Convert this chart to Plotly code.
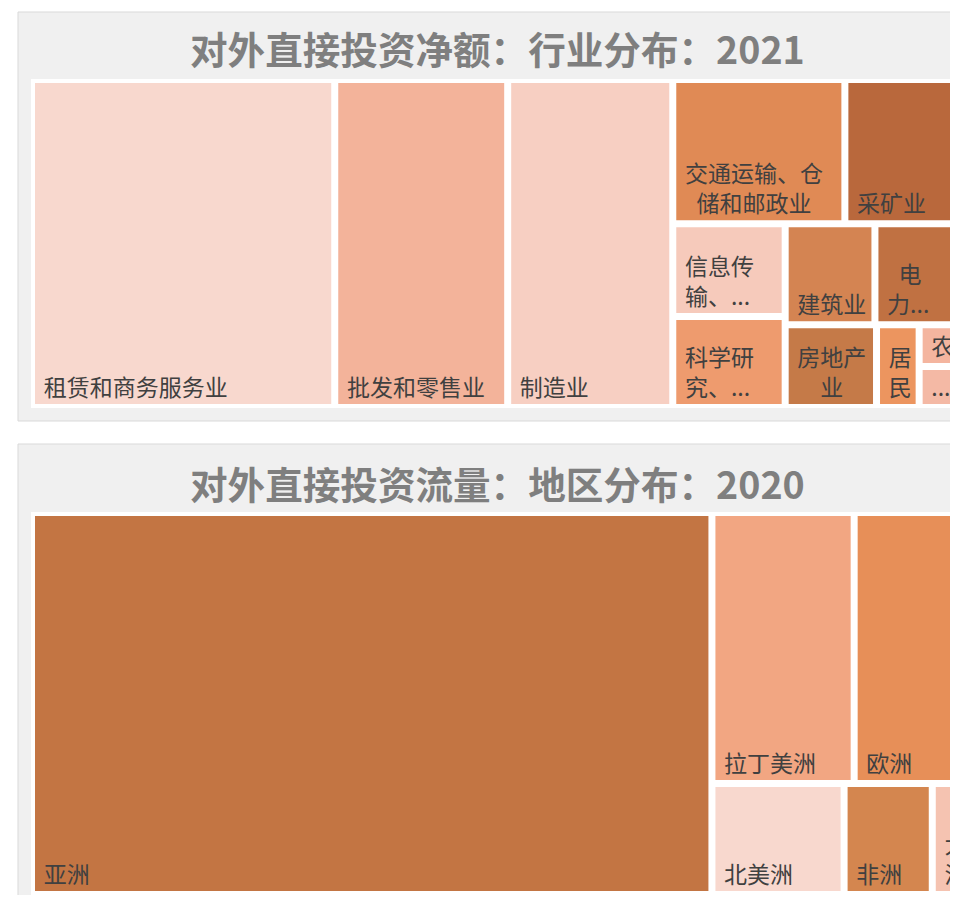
import plotly.graph_objects as go

# 行业分布 2021（亿美元，按图估算）
industry_labels = [
    "租赁和商务服务业", "批发和零售业", "制造业", "交通运输、仓储和邮政业", "采矿业",
    "信息传输、软件和信息技术服务业", "科学研究和技术服务业", "建筑业",
    "电力、热力、燃气及水生产和供应业", "房地产业", "居民服务、修理和其他服务业",
    "农、林、牧、渔业", "其他行业",
]
industry_values = [493.6, 281.5, 268.7, 123.2, 84.2, 51.8, 50.7, 45.0, 43.9, 37.5, 17.5, 9.0, 8.8]
industry_text = [
    "租赁和商务服务业", "批发和零售业", "制造业", "交通运输、仓<br>\u2002储和邮政业", "采矿业",
    "信息传<br>输、...", "科学研<br>究、...", "建筑业",
    "\u2002电<br>力...", "房地产<br>\u2003业", "居<br>民", "农...", "...",
]
industry_colors = [
    "#f8d8ce", "#f3b39a", "#f7cfc2", "#e08a55", "#b9683c",
    "#f6cabb", "#ee9b6e", "#d48452",
    "#c07142", "#c57a48", "#ec955f", "#f4b59f", "#f4b9a5",
]

# 地区分布 2020（亿美元）
region_labels = ["亚洲", "拉丁美洲", "欧洲", "北美洲", "非洲", "大洋洲"]
region_values = [1123.4, 166.6, 126.9, 63.4, 42.3, 14.5]
region_text = ["亚洲", "拉丁美洲", "欧洲", "北美洲", "非洲", "大<br>洋"]
region_colors = ["#c37543", "#f2a682", "#e78f58", "#f8d8ce", "#d4864f", "#f5c3b1"]

# the original chart is wider than the window, its right edge is cut off
W, H = 966, 887
OFF = 8
FONT = "Noto Sans CJK SC, Microsoft YaHei, sans-serif"


def px_x(x):
    return (x - OFF) / W


def px_y(y):
    return 1 - (y - OFF) / H


def pad(s):
    # a little left padding like the original labels
    return "<br>".join("\u2004" + part for part in s.split("<br>"))


def treemap(labels, values, text, colors, ratio, y_top, y_bottom):
    return go.Treemap(
        labels=labels,
        parents=[""] * len(labels),
        values=values,
        text=[pad(t) for t in text],
        texttemplate="%{text}",
        textposition="bottom left",
        textfont=dict(family=FONT, size=23, color="#404040"),
        marker=dict(
            colors=colors,
            line=dict(color="white", width=4),
            pad=dict(t=0, l=0, r=0, b=0),
        ),
        sort=False,
        tiling=dict(packing="squarify", squarifyratio=ratio),
        pathbar=dict(visible=False),
        domain=dict(x=[px_x(33), px_x(961)], y=[px_y(y_bottom), px_y(y_top)]),
        hoverinfo="label+value",
    )


fig = go.Figure()
fig.add_trace(treemap(industry_labels, industry_values, industry_text, industry_colors, 1, 81, 406))
fig.add_trace(treemap(region_labels, region_values, region_text, region_colors, 1.618, 514, 893))

# grey panels behind each treemap
for y0, y1 in [(12, 421), (444, 915)]:
    fig.add_shape(
        type="rect", xref="paper", yref="paper",
        x0=px_x(18), x1=px_x(976), y0=px_y(y1), y1=px_y(y0),
        fillcolor="#f0f0f0", line=dict(color="#d9d9d9", width=1), layer="below",
    )

for title, y in [("对外直接投资净额：行业分布：2021", 48), ("对外直接投资流量：地区分布：2020", 482)]:
    fig.add_annotation(
        text=f"<b>{title}</b>", xref="paper", yref="paper",
        x=px_x(497), y=px_y(y), xanchor="center", yanchor="middle", showarrow=False,
        font=dict(family=FONT, size=37.6, color="#7f7f7f"),
    )

fig.update_layout(
    width=W,
    height=H,
    margin=dict(l=0, r=0, t=0, b=0),
    paper_bgcolor="white",
    uniformtext=dict(minsize=23, mode="show"),
    showlegend=False,
)

fig.write_html("out.html")
